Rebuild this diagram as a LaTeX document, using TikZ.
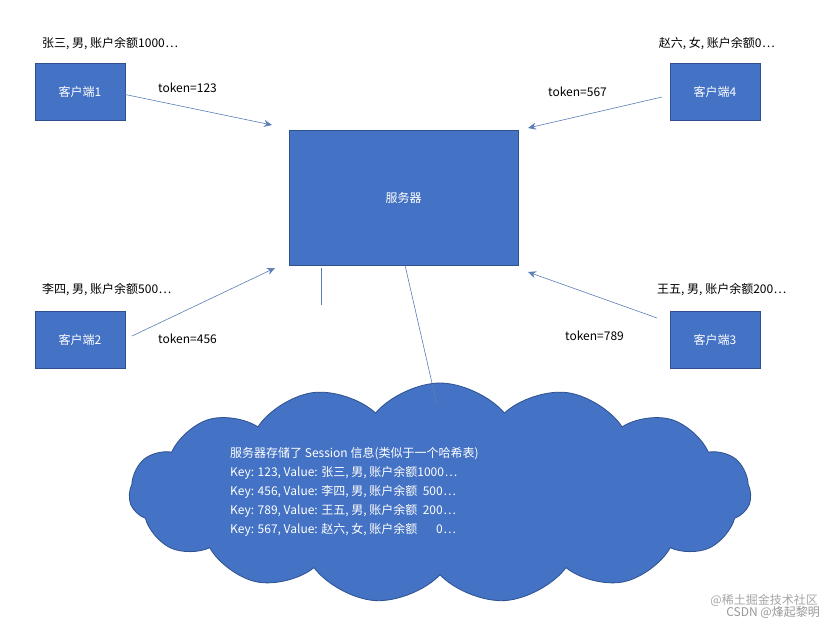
\documentclass[tikz,border=0pt]{standalone}
\usepackage{fontspec}
\setmainfont{Noto Sans CJK SC}
\usetikzlibrary{shapes.symbols,arrows.meta}
\definecolor{bf}{HTML}{4472C4}
\definecolor{bd}{HTML}{2F528F}
\definecolor{ln}{HTML}{5B7DB8}
\newcommand{\dd}{\kern0.5pt⋯}
\begin{document}
\begin{tikzpicture}[x=1pt,y=-1pt,
  box/.style={draw=bd,fill=bf,text=white,font=\fontsize{12}{14}\selectfont,inner sep=0},
  lab/.style={font=\fontsize{12}{14}\selectfont,inner sep=0},
  arr/.style={draw=ln,-{Stealth[length=8,width=7]},line width=0.6},
  ln/.style={draw=ln,line width=0.6}]
\useasboundingbox[fill=white] (0,0) rectangle (835,630);
\node[box,minimum width=90,minimum height=57] (c1) at (80,91.5) {客户端1};
\node[box,minimum width=90,minimum height=57] (c4) at (715,91.5) {客户端4};
\node[box,minimum width=90,minimum height=57] (c2) at (80,339.5) {客户端2};
\node[box,minimum width=90,minimum height=57] (c3) at (715,339.5) {客户端3};
\node[box,minimum width=229,minimum height=135] (s) at (403.5,197.5) {服务器};
\node[cloud,cloud puffs=15,cloud puff arc=100,aspect=3.2,draw=bd,fill=bf,minimum width=622,minimum height=220,line width=0.8] (cl) at (440,493) {};
\node[lab,anchor=west] (l1) at (42,44) {张三, 男, 账户余额1000\dd};
\node[lab,anchor=east] (l4) at (775,44) {赵六, 女, 账户余额0\dd};
\node[lab,anchor=west] (l2) at (42,290) {李四, 男, 账户余额500\dd};
\node[lab,anchor=west] (l3) at (657,290) {王五, 男, 账户余额200\dd};
\node[lab,anchor=west] (t1) at (158,88) {token=123};
\node[lab,anchor=west] (t4) at (548,92) {token=567};
\node[lab,anchor=west] (t2) at (158,339) {token=456};
\node[lab,anchor=west] (t3) at (565,336) {token=789};
\coordinate (a1) at (272,125); \coordinate (a4) at (528,128);
\coordinate (a2) at (275,268); \coordinate (a3) at (528,272);
\draw[arr] (c1.east) ++(0,3) -- (a1);
\draw[arr] (662,97) -- (a4);
\draw[arr] (132,336) -- (a2);
\draw[arr] (657,318) -- (a3);
\coordinate (sb) at (405,265); \coordinate (ct) at (437,405);
\draw[ln] (sb) -- (ct);
\coordinate (v1) at (321,268); \coordinate (v2) at (321,305);
\draw[ln] (v1) -- (v2);
\node[anchor=west,text=white,align=left,font=\fontsize{12}{19}\selectfont,inner sep=0] (ctext) at (230,492) {服务器存储了 Session 信息(类似于一个哈希表)\\
Key: 123, Value: 张三, 男, 账户余额1000\dd\\
Key: 456, Value: 李四, 男, 账户余额\ \ 500\dd\\
Key: 789, Value: 王五, 男, 账户余额\ \ 200\dd\\
Key: 567, Value: 赵六, 女, 账户余额\ \ \ \ \ \ \ 0\dd};
\node[anchor=east,text=gray!70,font=\fontsize{12}{13}\selectfont,inner sep=0] (w1) at (818,600) {@稀土掘金技术社区};
\node[anchor=east,text=gray!80,font=\fontsize{12}{13}\selectfont,inner sep=0] (w2) at (820,612) {CSDN @烽起黎明};
\end{tikzpicture}
\end{document}
